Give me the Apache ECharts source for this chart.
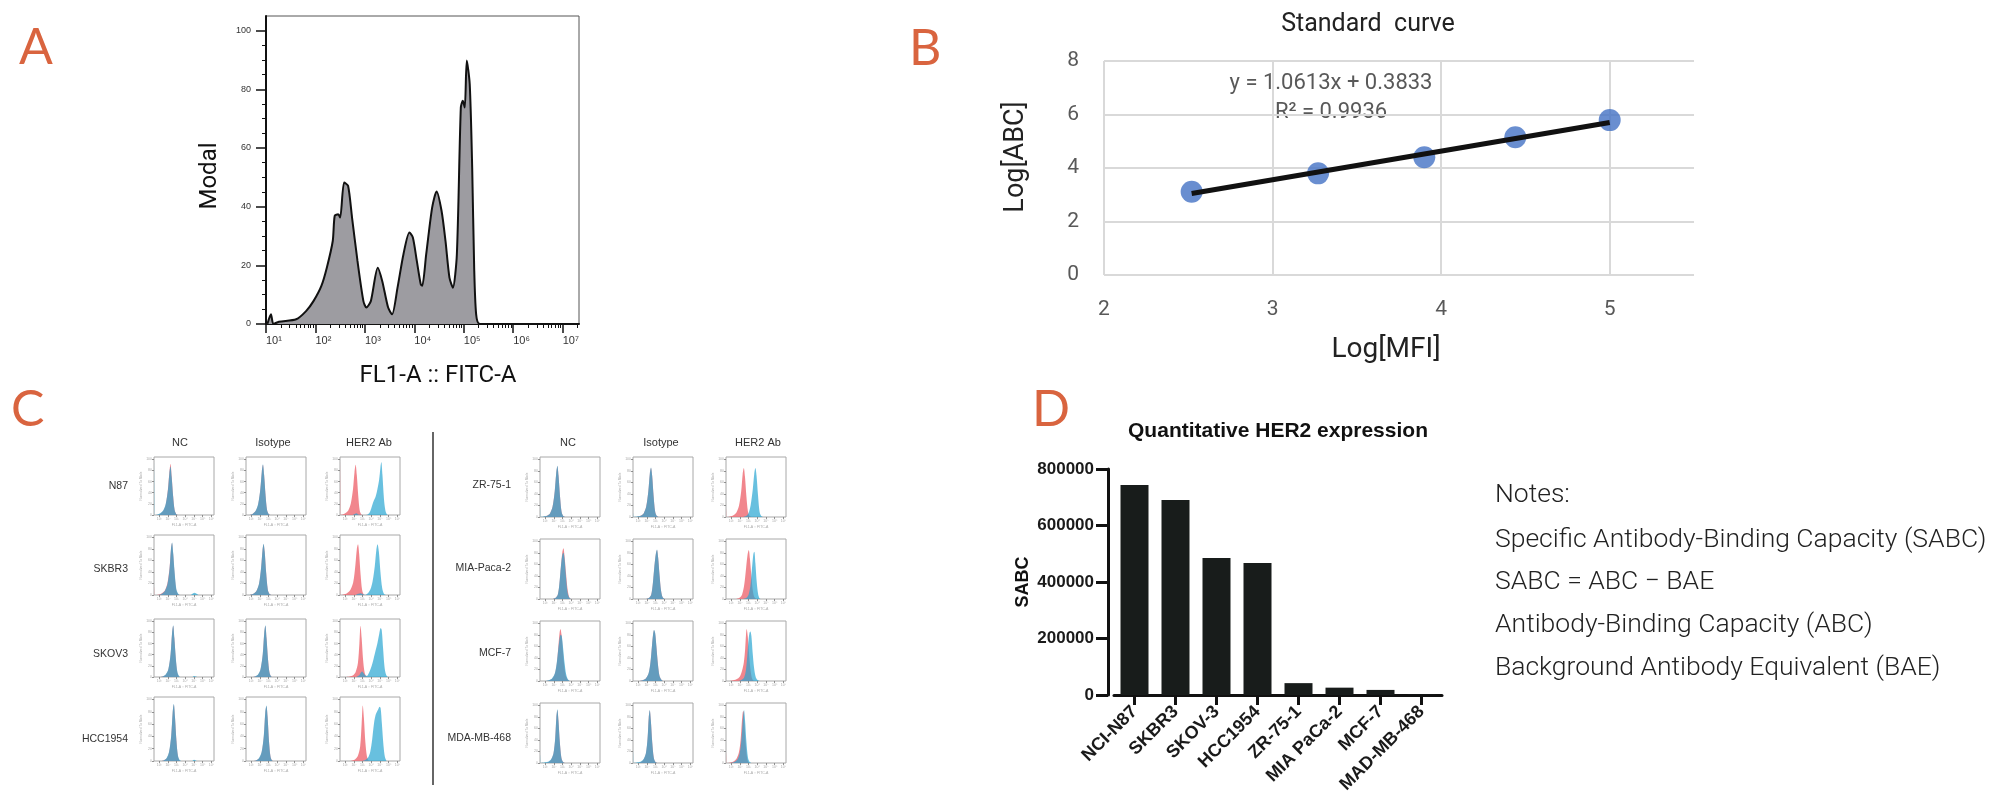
<!DOCTYPE html>
<html><head><meta charset="utf-8">
<script src="https://cdn.jsdelivr.net/npm/echarts@6/dist/echarts.min.js"></script>
<style>html,body{margin:0;padding:0;background:#fff;}#main{width:2012px;height:807px;}</style>
</head><body><div id="main"></div>
<script>
// ================= DATA =================
// Panel A : FlowJo histogram (log10 FL1-A vs % of max)
const histA_logFL1 = [1.03,1.10,1.15,1.26,1.61,1.81,1.96,2.12,2.23,2.35,2.39,2.46,2.50,2.58,2.66,2.74,2.85,2.97,3.03,3.12,3.26,3.35,3.47,3.55,3.66,3.78,3.90,3.97,4.05,4.13,4.16,4.24,4.36,4.45,4.55,4.63,4.71,4.78,4.86,4.94,4.98,5.02,5.06,5.12,5.17,5.21,5.25,5.32,7.22];
const histA_modal  = [0.1,3.3,0,0.8,1.6,4.4,7.8,13,19.2,28.3,36.9,37.4,36.3,48.2,47.1,36.3,21.5,7.8,5.6,7.8,19.2,14.7,5.6,3.3,12.4,23.8,31.2,29.5,21.5,13.5,13,23.8,39.7,45.2,38.6,28.3,15.8,12.4,23.8,73.8,76.1,73.8,89.8,81.8,53.3,19.2,3.3,0.1,0];
const fl1Decades = [1,2,3,4,5,6,7];
const modalTicks = [0,20,40,60,80,100];

// Panel B : standard curve
const stdLogMFI = [2.52,3.27,3.90,4.44,5.00];
const stdLogABC = [3.11,3.80,4.40,5.15,5.79];
const trendLogMFI = [2.52,5.00];
const trendLogABC = [3.05,5.70];
const stdEquation = 'y = 1.0613x + 0.3833';
const stdR2 = 'R² = 0.9936';

// Panel C : overlay histograms, per cell line: [NC red, NC blue, Isotype red, Isotype blue, HER2 red, HER2 blue]
const cellLinesC = ['N87','SKBR3','SKOV3','HCC1954','ZR-75-1','MIA-Paca-2','MCF-7','MDA-MB-468'];
const conditionsC = ['NC','Isotype','HER2 Ab'];
const hist_N87 = [
 [[0.7,0],[1.1,2],[1.45,7],[1.75,19],[2.0,46],[2.17,77],[2.3,92],[2.43,70],[2.6,34],[2.77,9],[2.95,2],[3.15,0]],
 [[0.4,98],[0.45,0],[0.8,1],[1.1,3],[1.45,8],[1.75,20],[2.0,45],[2.17,75],[2.3,87],[2.43,68],[2.6,33],[2.77,9],[2.95,2],[3.15,0]],
 [[0.75,0],[1.15,2],[1.5,7],[1.8,19],[2.05,46],[2.22,77],[2.35,90],[2.48,72],[2.65,35],[2.82,9],[3.0,2],[3.2,0]],
 [[0.75,0],[1.15,2],[1.5,7],[1.8,20],[2.05,47],[2.22,78],[2.35,91],[2.48,72],[2.65,35],[2.82,9],[3.0,2],[3.2,0]],
 [[0.4,100],[0.45,0],[0.7,1],[1.0,3],[1.35,8],[1.65,21],[1.9,47],[2.07,77],[2.2,90],[2.33,72],[2.5,34],[2.67,8],[2.85,1],[3.05,0]],
 [[1.8,0],[2.1,2],[2.3,3],[2.5,1],[3.4,0],[3.75,3],[4.0,12],[4.25,24],[4.5,33],[4.7,46],[4.9,63],[5.05,85],[5.15,95],[5.28,72],[5.45,30],[5.62,8],[5.8,1],[6.0,0]]
];
const hist_SKBR3 = [
 [[0.4,15],[0.45,0],[1.0,1],[1.3,3],[1.65,8],[1.95,21],[2.2,49],[2.35,79],[2.47,90],[2.6,72],[2.77,36],[2.95,10],[3.13,2],[3.32,0]],
 [[1.0,0],[1.3,2],[1.65,7],[1.95,19],[2.2,47],[2.35,80],[2.48,91],[2.6,74],[2.78,38],[2.96,11],[3.15,3],[3.35,0],[4.6,0],[4.9,3],[5.1,4],[5.3,2],[5.5,0]],
 [[0.85,0],[1.25,2],[1.6,7],[1.9,19],[2.14,47],[2.3,77],[2.42,88],[2.55,75],[2.72,38],[2.9,10],[3.08,2],[3.28,0]],
 [[0.85,0],[1.25,2],[1.6,7],[1.9,20],[2.14,48],[2.3,78],[2.42,89],[2.55,75],[2.72,38],[2.9,10],[3.08,2],[3.28,0]],
 [[0.4,18],[0.45,0],[0.8,1],[1.2,3],[1.6,9],[1.92,22],[2.17,52],[2.34,80],[2.47,88],[2.6,72],[2.77,35],[2.94,9],[3.12,1],[3.32,0]],
 [[2.2,0],[2.5,2],[2.8,3],[3.1,1],[3.3,0],[3.6,3],[3.9,10],[4.15,24],[4.4,50],[4.58,78],[4.72,88],[4.87,75],[5.05,40],[5.25,12],[5.45,2],[5.65,0]]
];
const hist_SKOV3 = [
 [[1.0,0],[1.4,1],[1.76,4],[2.06,14],[2.31,40],[2.48,78],[2.61,92],[2.74,70],[2.91,32],[3.08,8],[3.26,1],[3.46,0]],
 [[1.0,0],[1.4,1],[1.76,5],[2.06,15],[2.31,42],[2.48,80],[2.61,93],[2.74,70],[2.92,32],[3.09,9],[3.27,2],[3.47,0],[4.8,0],[5.0,2],[5.2,1],[5.4,0]],
 [[1.05,0],[1.45,1],[1.8,4],[2.08,14],[2.33,40],[2.5,78],[2.63,92],[2.76,70],[2.93,32],[3.1,8],[3.28,1],[3.48,0]],
 [[1.05,0],[1.45,1],[1.8,5],[2.08,15],[2.33,42],[2.5,80],[2.63,93],[2.76,70],[2.93,32],[3.1,8],[3.28,1],[3.48,0]],
 [[1.1,0],[1.5,1],[1.9,3],[2.2,9],[2.46,25],[2.63,60],[2.76,92],[2.89,70],[3.06,30],[3.23,8],[3.41,1],[3.6,0]],
 [[2.3,0],[2.6,3],[2.8,8],[2.95,10],[3.1,7],[3.3,3],[3.5,2],[3.75,8],[4.0,18],[4.25,32],[4.5,48],[4.72,62],[4.92,78],[5.08,88],[5.2,84],[5.36,50],[5.52,18],[5.7,4],[5.9,0]]
];
const hist_HCC1954 = [
 [[1.1,0],[1.5,1],[1.85,4],[2.13,14],[2.38,40],[2.55,78],[2.68,92],[2.81,72],[2.98,33],[3.15,8],[3.33,1],[3.53,0]],
 [[1.1,0],[1.5,1],[1.85,5],[2.13,15],[2.38,42],[2.55,80],[2.68,93],[2.81,72],[2.98,33],[3.15,9],[3.33,2],[3.53,0],[4.8,0],[5.0,2],[5.2,1],[5.4,0]],
 [[1.15,0],[1.55,1],[1.9,4],[2.2,14],[2.45,40],[2.62,78],[2.75,89],[2.88,72],[3.05,31],[3.22,7],[3.4,1],[3.6,0]],
 [[1.15,0],[1.55,1],[1.9,5],[2.2,15],[2.45,42],[2.62,80],[2.75,90],[2.88,72],[3.05,31],[3.22,7],[3.4,1],[3.6,0]],
 [[1.4,0],[1.8,1],[2.15,3],[2.45,8],[2.72,24],[2.89,60],[3.02,90],[3.15,70],[3.32,30],[3.49,8],[3.67,1],[3.87,0]],
 [[3.0,0],[3.35,2],[3.65,6],[3.88,15],[4.1,35],[4.32,62],[4.5,75],[4.65,80],[4.8,84],[4.95,88],[5.07,86],[5.22,60],[5.4,25],[5.57,6],[5.75,0]]
];
const hist_ZR751 = [
 [[0.8,0],[1.2,2],[1.55,6],[1.85,18],[2.1,45],[2.27,76],[2.4,88],[2.53,72],[2.7,36],[2.87,10],[3.05,2],[3.25,0]],
 [[0.4,20],[0.45,0],[0.8,1],[1.2,2],[1.55,6],[1.85,18],[2.1,46],[2.27,77],[2.4,89],[2.53,72],[2.7,36],[2.87,10],[3.05,2],[3.25,0]],
 [[0.87,0],[1.27,2],[1.62,6],[1.92,18],[2.17,45],[2.34,75],[2.47,85],[2.6,72],[2.77,36],[2.94,10],[3.12,2],[3.32,0]],
 [[0.4,8],[0.45,0],[0.87,1],[1.27,2],[1.62,6],[1.92,18],[2.17,46],[2.34,76],[2.47,86],[2.6,72],[2.77,36],[2.94,10],[3.12,2],[3.32,0]],
 [[0.4,15],[0.45,0],[0.85,1],[1.25,3],[1.6,8],[1.9,20],[2.15,45],[2.32,75],[2.45,85],[2.58,70],[2.75,35],[2.92,10],[3.1,2],[3.3,0]],
 [[2.4,0],[2.75,2],[3.0,7],[3.23,20],[3.48,48],[3.65,75],[3.78,85],[3.91,72],[4.08,38],[4.25,10],[4.43,2],[4.63,0]]
];
const hist_MIAPaca2 = [
 [[1.9,0],[2.2,2],[2.45,8],[2.62,24],[2.8,55],[2.96,80],[3.09,88],[3.22,75],[3.39,45],[3.56,18],[3.74,4],[3.94,0]],
 [[1.9,0],[2.2,2],[2.45,8],[2.62,25],[2.8,56],[2.96,76],[3.09,80],[3.22,70],[3.39,38],[3.56,12],[3.74,3],[3.94,0]],
 [[1.95,0],[2.25,2],[2.5,8],[2.68,26],[2.86,56],[3.03,78],[3.16,85],[3.29,72],[3.46,40],[3.63,14],[3.81,3],[4.01,0]],
 [[1.95,0],[2.25,2],[2.5,8],[2.68,27],[2.86,57],[3.03,79],[3.16,86],[3.29,72],[3.46,40],[3.63,14],[3.81,3],[4.01,0]],
 [[1.6,0],[1.95,2],[2.25,8],[2.5,25],[2.72,55],[2.89,78],[3.02,85],[3.15,70],[3.32,40],[3.49,14],[3.67,3],[3.87,0]],
 [[2.4,0],[2.75,2],[3.0,8],[3.2,22],[3.36,48],[3.5,72],[3.58,80],[3.66,82],[3.78,62],[3.94,28],[4.1,8],[4.27,1],[4.45,0]]
];
const hist_MCF7 = [
 [[1.0,0],[1.4,1],[1.8,4],[2.1,12],[2.33,30],[2.5,58],[2.64,82],[2.75,90],[2.88,80],[3.02,55],[3.18,28],[3.35,10],[3.55,3],[3.75,0]],
 [[0.9,0],[1.3,1],[1.75,4],[2.1,13],[2.33,32],[2.5,55],[2.64,72],[2.77,80],[2.9,78],[3.05,58],[3.22,32],[3.4,12],[3.6,3],[3.82,0]],
 [[1.0,0],[1.4,1],[1.85,4],[2.2,13],[2.42,33],[2.58,60],[2.71,80],[2.82,88],[2.95,82],[3.1,58],[3.26,30],[3.43,10],[3.62,3],[3.82,0]],
 [[1.0,0],[1.4,1],[1.85,4],[2.2,14],[2.42,34],[2.58,61],[2.71,81],[2.82,89],[2.95,83],[3.1,58],[3.26,30],[3.43,10],[3.62,3],[3.82,0]],
 [[0.6,0],[1.1,1],[1.6,3],[2.0,8],[2.25,18],[2.45,32],[2.6,55],[2.7,80],[2.78,90],[2.9,78],[3.04,50],[3.2,22],[3.36,6],[3.52,1],[3.7,0]],
 [[1.9,0],[2.2,2],[2.48,6],[2.7,20],[2.87,48],[3.0,72],[3.11,84],[3.2,86],[3.32,78],[3.46,50],[3.62,24],[3.8,8],[4.0,2],[4.25,0]]
];
const hist_MDAMB468 = [
 [[0.9,0],[1.3,1],[1.65,5],[1.95,16],[2.15,42],[2.28,78],[2.4,92],[2.52,74],[2.68,36],[2.85,10],[3.03,2],[3.23,0]],
 [[0.4,15],[0.45,0],[0.9,1],[1.3,2],[1.65,6],[1.95,17],[2.15,44],[2.28,79],[2.4,93],[2.52,74],[2.68,36],[2.85,10],[3.03,2],[3.23,0]],
 [[0.83,0],[1.23,1],[1.58,5],[1.88,16],[2.08,42],[2.21,78],[2.33,91],[2.45,74],[2.61,36],[2.78,10],[2.96,2],[3.16,0]],
 [[0.4,22],[0.45,0],[0.83,1],[1.23,2],[1.58,6],[1.88,17],[2.08,44],[2.21,79],[2.33,92],[2.45,74],[2.61,36],[2.78,10],[2.96,2],[3.16,0]],
 [[0.4,18],[0.45,0],[0.9,1],[1.3,3],[1.62,8],[1.88,18],[2.08,40],[2.22,70],[2.33,88],[2.42,90],[2.53,66],[2.68,30],[2.84,8],[3.0,1],[3.2,0]],
 [[1.0,0],[1.4,2],[1.75,7],[2.02,21],[2.22,50],[2.36,80],[2.47,92],[2.59,74],[2.75,36],[2.92,10],[3.1,2],[3.3,0]]
];
const histC = [hist_N87,hist_SKBR3,hist_SKOV3,hist_HCC1954,hist_ZR751,hist_MIAPaca2,hist_MCF7,hist_MDAMB468];

// Panel D : quantitative HER2 expression
const cellLinesD = ['NCI-N87','SKBR3','SKOV-3','HCC1954','ZR-75-1','MIA PaCa-2','MCF-7','MAD-MB-468'];
const sabcValues = [743000,690000,485000,467000,42000,26000,18000,2000];

// Notes
const notesLines = ['Notes:','Specific Antibody-Binding Capacity (SABC)','SABC = ABC \u2212 BAE','Antibody-Binding Capacity (ABC)','Background Antibody Equivalent (BAE)'];

// ================= BUILD =================
const SUP = {1:'\u00b9',2:'\u00b2',3:'\u00b3',4:'\u2074',5:'\u2075',6:'\u2076',7:'\u2077'};
const minorLog = [];
fl1Decades.forEach(d => { for (let k = 2; k <= 9; k++) { const v = d + Math.log10(k); if (v < 7.33) minorLog.push(v); } });
const minorModal = [];
for (let v = 5; v < 105; v += 5) if (v % 20 !== 0) minorModal.push(v);

const grids = [], xAxes = [], yAxes = [], series = [], graphics = [];
const SANS = 'Liberation Sans, Arial, sans-serif';

// ---- Panel A ----
grids.push({left:266, top:16, width:313, height:308, show:true, borderColor:'#555', borderWidth:1, outerBoundsMode:'none'});
xAxes.push({gridIndex:0, type:'value', min:1, max:7.33, position:'bottom',
  axisLine:{show:true, onZero:false, lineStyle:{color:'#111', width:2}},
  axisTick:{show:true, length:9, customValues:fl1Decades, lineStyle:{color:'#111', width:1.5}},
  axisLabel:{customValues:fl1Decades, formatter:v => '10' + SUP[v], align:'left', margin:11, fontSize:11, color:'#333', fontFamily:'Liberation Sans, DejaVu Sans'},
  splitLine:{show:false}});
xAxes.push({gridIndex:0, type:'value', min:1, max:7.33, position:'bottom',
  axisLine:{show:false, onZero:false}, axisTick:{show:true, length:4, customValues:minorLog, lineStyle:{color:'#111', width:1}},
  axisLabel:{show:false}, splitLine:{show:false}});
yAxes.push({gridIndex:0, type:'value', min:0, max:105, position:'left',
  axisLine:{show:true, lineStyle:{color:'#111', width:2}},
  axisTick:{show:true, length:10, customValues:modalTicks, lineStyle:{color:'#111', width:1.5}},
  axisLabel:{customValues:modalTicks, margin:15, fontSize:9, color:'#333', fontFamily:SANS},
  splitLine:{show:false}});
yAxes.push({gridIndex:0, type:'value', min:0, max:105, position:'left',
  axisLine:{show:false}, axisTick:{show:true, length:4, customValues:minorModal, lineStyle:{color:'#111', width:1}},
  axisLabel:{show:false}, splitLine:{show:false}});
series.push({type:'line', xAxisIndex:0, yAxisIndex:0, data:histA_logFL1.map((x,i)=>[x, histA_modal[i]]),
  symbol:'none', smooth:0.25, lineStyle:{color:'#111', width:2}, areaStyle:{color:'#9d9ca1', opacity:1}, silent:true, z:3});

// ---- Panel B ----
grids.push({left:1104, top:61, width:590, height:214, outerBoundsMode:'none'});
xAxes.push({gridIndex:1, type:'value', min:2, max:5.5, interval:1,
  axisLine:{show:false}, axisTick:{show:false},
  axisLabel:{showMaxLabel:false, fontSize:21, color:'#595959', margin:24, fontFamily:'Roboto'},
  splitLine:{show:true, showMaxLine:false, lineStyle:{color:'#d9d9d9', width:2}}});
yAxes.push({gridIndex:1, type:'value', min:0, max:8, interval:2,
  axisLine:{show:false}, axisTick:{show:false},
  axisLabel:{fontSize:21, color:'#595959', margin:25, fontFamily:'Roboto'},
  splitLine:{show:true, lineStyle:{color:'#d9d9d9', width:2}}});
series.push({type:'scatter', xAxisIndex:2, yAxisIndex:2, data:stdLogMFI.map((x,i)=>[x, stdLogABC[i]]),
  symbolSize:22, itemStyle:{color:'#4472c4'}, silent:true, z:2});
series.push({type:'line', xAxisIndex:2, yAxisIndex:2, data:trendLogMFI.map((x,i)=>[x, trendLogABC[i]]),
  symbol:'none', lineStyle:{color:'#111', width:5}, silent:true, z:3});

// ---- Panel D ----
grids.push({left:1114, top:469, width:328, height:226, outerBoundsMode:'none'});
xAxes.push({gridIndex:2, type:'category', data:cellLinesD,
  axisLine:{show:true, lineStyle:{color:'#111', width:3}},
  axisTick:{show:true, alignWithLabel:true, length:10, lineStyle:{color:'#111', width:3}},
  axisLabel:{rotate:45, interval:0, fontSize:18, fontWeight:'bold', color:'#1a1a1a', margin:14, fontFamily:SANS}});
yAxes.push({gridIndex:2, type:'value', min:0, max:800000, interval:200000, offset:6,
  axisLine:{show:true, lineStyle:{color:'#111', width:3}},
  axisTick:{show:true, length:12, lineStyle:{color:'#111', width:3}},
  axisLabel:{formatter:v => String(v), fontSize:17, fontWeight:'bold', color:'#1a1a1a', margin:14, fontFamily:SANS},
  splitLine:{show:false}});
series.push({type:'bar', xAxisIndex:3, yAxisIndex:3, data:sabcValues, barWidth:28, itemStyle:{color:'#181c1b'}, silent:true});

// ---- Panel C ----
const leftsC = [[154,246,340],[540,633,726]];
const topsC = [[457,535,619,697],[457,539,621,703]];
const heightsC = [[58,60,58,64],[60,60,60,60]];
const pctTicks = [0,20,40,60,80,100];
const RED = 'rgba(238,104,112,0.8)', BLUE = 'rgba(40,165,210,0.7)';
histC.forEach((curves, li) => {
  const g = Math.floor(li / 4), r = li % 4;
  for (let c = 0; c < 3; c++) {
    const gi = grids.length;
    grids.push({left:leftsC[g][c], top:topsC[g][r], width:60, height:heightsC[g][r], show:true, borderColor:'#a8a8a8', borderWidth:1, outerBoundsMode:'none'});
    const xi = xAxes.length, yi = yAxes.length;
    xAxes.push({gridIndex:gi, type:'value', min:0.4, max:7.3,
      axisLine:{show:false}, axisTick:{show:true, length:2, customValues:fl1Decades, lineStyle:{color:'#777', width:0.8}},
      axisLabel:{customValues:fl1Decades, formatter:v => '10' + SUP[v], fontSize:3.5, color:'#aaa', margin:2},
      splitLine:{show:false},
      name:'FL1-A :: FITC-A', nameLocation:'middle', nameGap:8, nameTextStyle:{fontSize:3.5, color:'#aaa'}});
    yAxes.push({gridIndex:gi, type:'value', min:0, max:104,
      axisLine:{show:false}, axisTick:{show:true, length:2, customValues:pctTicks, lineStyle:{color:'#777', width:0.8}},
      axisLabel:{customValues:pctTicks, fontSize:3.5, color:'#aaa', margin:2},
      splitLine:{show:false},
      name:'Normalized To Mode', nameLocation:'middle', nameGap:8, nameTextStyle:{fontSize:3.2, color:'#aaa'}});
    [[curves[2*c], RED],[curves[2*c+1], BLUE]].forEach(([pts, col], k) => {
      series.push({type:'line', xAxisIndex:xi, yAxisIndex:yi, data:pts, symbol:'none', smooth:0.3,
        lineStyle:{width:0}, areaStyle:{color:col, opacity:1}, silent:true, z:2 + k});
    });
  }
});

// ---- Text / decorations ----
const LETTER = {fill:'#d9643f', fontSize:50, fontFamily:'Lato, Open Sans, sans-serif', verticalAlign:'middle', align:'left'};
[['A',19,48],['B',909,49],['C',11,410],['D',1032,410]].forEach(([t,x,y]) => graphics.push({type:'text', x, y, style:Object.assign({text:t}, LETTER)}));
graphics.push({type:'text', x:210, y:176, rotation:Math.PI/2, style:{text:'Modal', fontSize:24, fontFamily:'Roboto', fill:'#111', align:'center', verticalAlign:'middle'}});
graphics.push({type:'text', x:438, y:376, style:{text:'FL1-A :: FITC-A', fontSize:24, fontFamily:'Roboto', fill:'#111', align:'center', verticalAlign:'middle'}});
graphics.push({type:'text', x:1368, y:25, style:{text:'Standard  curve', fontSize:25, fontFamily:'Roboto', fill:'#222', align:'center', verticalAlign:'middle'}});
graphics.push({type:'text', x:1331, y:83, style:{text:stdEquation, fontSize:22, fontFamily:'Roboto', fill:'#595959', align:'center', verticalAlign:'middle'}});
graphics.push({type:'text', x:1331, y:112, style:{text:stdR2, fontSize:22, fontFamily:'Roboto', fill:'#595959', align:'center', verticalAlign:'middle'}});
graphics.push({type:'text', x:1016, y:157, rotation:Math.PI/2, style:{text:'Log[ABC]', fontSize:27, fontFamily:'Roboto', fill:'#222', align:'center', verticalAlign:'middle'}});
graphics.push({type:'text', x:1386, y:350, style:{text:'Log[MFI]', fontSize:28, fontFamily:'Roboto', fill:'#222', align:'center', verticalAlign:'middle'}});
// panel C headers & row labels
const headerX = [[180,273,369],[568,661,758]];
const rowY = [[486,569,654,739],[485,568,653,738]];
const rowX = [128,511];
for (let g = 0; g < 2; g++) {
  conditionsC.forEach((t, c) => graphics.push({type:'text', x:headerX[g][c], y:443, style:{text:t, fontSize:11, fontFamily:SANS, fill:'#333', align:'center', verticalAlign:'middle'}}));
  for (let r = 0; r < 4; r++) graphics.push({type:'text', x:rowX[g], y:rowY[g][r], style:{text:cellLinesC[g*4+r], fontSize:10.5, fontFamily:SANS, fill:'#333', align:'right', verticalAlign:'middle'}});
}
graphics.push({type:'line', shape:{x1:433, y1:432, x2:433, y2:785}, style:{stroke:'#666', lineWidth:2}});
// panel D titles
graphics.push({type:'text', x:1278, y:431, style:{text:'Quantitative HER2 expression', fontSize:21, fontWeight:'bold', fontFamily:SANS, fill:'#111', align:'center', verticalAlign:'middle'}});
graphics.push({type:'text', x:1023, y:582, rotation:Math.PI/2, style:{text:'SABC', fontSize:18, fontWeight:'bold', fontFamily:SANS, fill:'#111', align:'center', verticalAlign:'middle'}});
// notes
const notesY = [495,540,582,625,668];
notesLines.forEach((t,i) => graphics.push({type:'text', x:1495, y:notesY[i], style:{text:t, fontSize:26.5, fontWeight:300, fontFamily:'Roboto', fill:'#222', align:'left', verticalAlign:'middle'}}));

const chart = echarts.init(document.getElementById('main'), null, {renderer:'canvas', width:2012, height:807});
chart.setOption({
  animation:false,
  backgroundColor:'#ffffff',
  grid:grids, xAxis:xAxes, yAxis:yAxes, series:series, graphic:graphics
});
</script>
</body></html>
